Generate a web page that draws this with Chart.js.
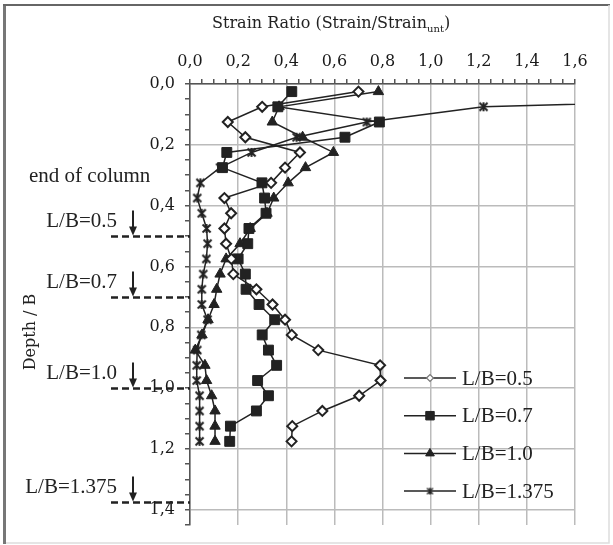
<!DOCTYPE html>
<html>
<head>
<meta charset="utf-8">
<script src="https://cdn.jsdelivr.net/npm/chart.js@4.4.1/dist/chart.umd.min.js"></script>
<style>
  html, body { margin: 0; background: #fff; }
  canvas { display: block; }
</style>
</head>
<body>
<canvas id="chart" width="613" height="545"></canvas>
<script>
// gauge depths (Depth / B)
const depths = [0.025, 0.075, 0.125, 0.175, 0.225, 0.275, 0.325, 0.375, 0.425, 0.475, 0.525, 0.575,
                0.625, 0.675, 0.725, 0.775, 0.825, 0.875, 0.925, 0.975, 1.025, 1.075, 1.125, 1.175];

// strain ratio for each column length
const ratioLB05 = [0.70, 0.30, 0.157, 0.23, 0.457, 0.395, 0.337, 0.143, 0.171, 0.143, 0.15, 0.172,
                   0.18, 0.276, 0.343, 0.395, 0.423, 0.533, 0.79, 0.792, 0.703, 0.55, 0.425, 0.422];
const ratioLB07 = [0.423, 0.365, 0.787, 0.644, 0.153, 0.135, 0.299, 0.31, 0.316, 0.245, 0.24, 0.20,
                   0.23, 0.233, 0.287, 0.352, 0.30, 0.326, 0.36, 0.281, 0.326, 0.276, 0.168, 0.165];
const ratioLB10 = [0.783, 0.37, 0.342, 0.468, 0.596, 0.48, 0.408, 0.348, 0.32, 0.25, 0.208, 0.15,
                   0.125, 0.111, 0.10, 0.075, 0.05, 0.022, 0.062, 0.069, 0.09, 0.104, 0.104, 0.104];
const ratioLB1375 = [3.4, 1.22, 0.735, 0.443, 0.256, 0.125, 0.043, 0.03, 0.049, 0.069, 0.073, 0.068,
                     0.055, 0.049, 0.049, 0.073, 0.047, 0.03, 0.028, 0.028, 0.04, 0.04, 0.04, 0.04];

const seriesNames = ['L/B=0.5', 'L/B=0.7', 'L/B=1.0', 'L/B=1.375'];

const ratioTickLabels = ['0,0', '0,2', '0,4', '0,6', '0,8', '1,0', '1,2', '1,4', '1,6'];
const depthTickLabels = ['0,0', '0,2', '0,4', '0,6', '0,8', '1,0', '1,2', '1,4'];

// column tip depths marked at the left
const tipDepths = [0.5, 0.7, 1.0, 1.375];
const tipLabels = ['L/B=0.5', 'L/B=0.7', 'L/B=1.0', 'L/B=1.375'];

const INK = '#222';
const SERIF = "'Liberation Serif', 'Times New Roman', serif";
const DV = "'DejaVu Serif', serif";

// asterisk marker (X with a vertical stroke)
function starMarker(size, lw) {
  const c = document.createElement('canvas');
  c.width = c.height = size;
  const g = c.getContext('2d');
  g.strokeStyle = INK;
  g.lineWidth = lw;
  const a = 1.5, b = size - 1.5;
  g.beginPath();
  g.moveTo(a, a); g.lineTo(b, b);
  g.moveTo(b, a); g.lineTo(a, b);
  g.moveTo(size / 2, a - 0.5); g.lineTo(size / 2, b + 0.5);
  g.stroke();
  return c;
}

const ratioSets = [ratioLB05, ratioLB07, ratioLB10, ratioLB1375];
const styles = [
  { pointStyle: 'rectRot', pointRadius: 5, pointBorderWidth: 2, pointBackgroundColor: '#fff' },
  { pointStyle: 'rect', pointRadius: 7, pointBorderWidth: 1, pointBackgroundColor: INK },
  { pointStyle: 'triangle', pointRadius: 6, pointBorderWidth: 1, pointBackgroundColor: INK },
  { pointStyle: starMarker(11, 2), pointRadius: 5, pointBorderWidth: 1, pointBackgroundColor: INK }
];
const legendStyles = [
  { pointStyle: 'rectRot', radius: 3.5, borderWidth: 1.2, fill: '#fff', stroke: '#777' },
  { pointStyle: 'rect', radius: 6, borderWidth: 1, fill: INK, stroke: INK },
  { pointStyle: 'triangle', radius: 5, borderWidth: 1, fill: INK, stroke: INK },
  { pointStyle: starMarker(9, 1.4), radius: 4, borderWidth: 1, fill: INK, stroke: INK }
];

const datasets = ratioSets.map((vals, i) => Object.assign({
  label: seriesNames[i],
  data: vals.map((v, k) => ({ x: v, y: depths[k] })),
  borderColor: INK,
  pointBorderColor: INK,
  borderWidth: 1.5,
  tension: 0,
  fill: false,
  clip: 0
}, styles[i]));

function isMajor(v) {
  return Math.abs(v / 0.2 - Math.round(v / 0.2)) < 1e-6;
}

// frame, titles, legend and column tip marks
const decorations = {
  id: 'decorations',
  beforeDraw(chart) {
    const ctx = chart.ctx;
    ctx.save();
    ctx.fillStyle = '#fff';
    ctx.fillRect(0, 0, chart.width, chart.height);
    ctx.restore();
  },
  afterDraw(chart) {
    const ctx = chart.ctx;
    const ys = chart.scales.y;
    const area = chart.chartArea;
    ctx.save();

    // outer frame
    ctx.strokeStyle = '#777';
    ctx.lineWidth = 3;
    ctx.beginPath(); ctx.moveTo(4.5, 4); ctx.lineTo(4.5, 544); ctx.stroke();
    ctx.lineWidth = 2;
    ctx.strokeStyle = '#666';
    ctx.beginPath(); ctx.moveTo(3, 5); ctx.lineTo(610, 5); ctx.stroke();
    ctx.strokeStyle = '#ddd';
    ctx.lineWidth = 1.5;
    ctx.beginPath(); ctx.moveTo(6, 543); ctx.lineTo(609, 543); ctx.lineTo(609, 5); ctx.stroke();

    // axis titles
    ctx.fillStyle = INK;
    ctx.textBaseline = 'alphabetic';
    ctx.font = '16px ' + DV;
    const main = 'Strain Ratio (Strain/Strain';
    const wMain = ctx.measureText(main).width;
    ctx.font = '10px ' + DV;
    const wSub = ctx.measureText('unt').width;
    let tx = 331 - (wMain + wSub + 6) / 2;
    ctx.textAlign = 'left';
    ctx.font = '16px ' + DV;
    ctx.fillText(main, tx, 28);
    ctx.font = '10px ' + DV;
    ctx.fillText('unt', tx + wMain, 32);
    ctx.font = '16px ' + DV;
    ctx.fillText(')', tx + wMain + wSub, 28);

    ctx.save();
    ctx.translate(31, 332);
    ctx.rotate(-Math.PI / 2);
    ctx.textAlign = 'center';
    ctx.textBaseline = 'middle';
    ctx.font = '16px ' + DV;
    ctx.fillText('Depth / B', 0, 0);
    ctx.restore();

    // column tip marks
    ctx.font = '21px ' + SERIF;
    ctx.textAlign = 'left';
    ctx.textBaseline = 'middle';
    ctx.fillText('end of column', 29, 176);
    tipDepths.forEach((d, i) => {
      const y = Math.round(ys.getPixelForValue(d)) + 0.5;
      ctx.strokeStyle = INK;
      ctx.lineWidth = 2.5;
      ctx.setLineDash([7, 4]);
      ctx.beginPath(); ctx.moveTo(111, y); ctx.lineTo(area.left, y); ctx.stroke();
      ctx.setLineDash([]);
      ctx.lineWidth = 2;
      ctx.beginPath(); ctx.moveTo(133, y - 26); ctx.lineTo(133, y - 6); ctx.stroke();
      ctx.fillStyle = INK;
      ctx.beginPath();
      ctx.moveTo(129, y - 10); ctx.lineTo(137, y - 10); ctx.lineTo(133, y - 1);
      ctx.closePath(); ctx.fill();
      ctx.textAlign = 'right';
      ctx.fillText(tipLabels[i], 117, y - 15);
    });

    // legend
    const lx = 404, lw = 52;
    seriesNames.forEach((name, i) => {
      const y = 378 + i * 37.7;
      ctx.strokeStyle = INK;
      ctx.lineWidth = 1.5;
      ctx.beginPath(); ctx.moveTo(lx, y); ctx.lineTo(lx + lw, y); ctx.stroke();
      const s = legendStyles[i];
      ctx.fillStyle = s.fill;
      ctx.strokeStyle = s.stroke;
      ctx.lineWidth = s.borderWidth;
      Chart.helpers.drawPoint(ctx, { pointStyle: s.pointStyle, radius: s.radius, borderWidth: s.borderWidth, rotation: 0 }, lx + lw / 2, y);
      ctx.fillStyle = INK;
      ctx.textAlign = 'left';
      ctx.fillText(name, 462, y + 1);
    });
    ctx.restore();
  }
};

new Chart(document.getElementById('chart'), {
  type: 'line',
  data: { datasets },
  options: {
    responsive: false,
    animation: false,
    layout: { padding: { left: 0, top: 0, right: 38, bottom: 20 } },
    plugins: { legend: { display: false }, tooltip: { enabled: false } },
    scales: {
      x: {
        type: 'linear',
        position: 'top',
        min: 0,
        max: 1.6,
        afterFit: s => { s.height = 84; },
        border: { color: '#555', width: 1.5 },
        grid: {
          color: c => isMajor(c.tick.value) ? '#bbbbbb' : 'rgba(0,0,0,0)',
          lineWidth: 1.5,
          tickColor: '#555',
          tickLength: 5
        },
        ticks: {
          stepSize: 0.05,
          autoSkip: false,
          maxRotation: 0,
          padding: 8,
          color: '#1a1a1a',
          font: { family: 'DejaVu Serif', size: 16 },
          callback: v => isMajor(v) ? ratioTickLabels[Math.round(v / 0.2)] : ''
        }
      },
      y: {
        type: 'linear',
        position: 'left',
        reverse: true,
        min: 0,
        max: 1.45,
        afterFit: s => { s.width = 190; },
        border: { color: '#555', width: 1.5 },
        grid: {
          color: c => isMajor(c.tick.value) ? '#bbbbbb' : 'rgba(0,0,0,0)',
          lineWidth: 1.5,
          tickColor: '#555',
          tickLength: 5
        },
        ticks: {
          stepSize: 0.05,
          autoSkip: false,
          padding: 10,
          color: '#1a1a1a',
          font: { family: 'DejaVu Serif', size: 16 },
          callback: v => isMajor(v) ? depthTickLabels[Math.round(v / 0.2)] : ''
        }
      }
    }
  },
  plugins: [decorations]
});
</script>
</body>
</html>
